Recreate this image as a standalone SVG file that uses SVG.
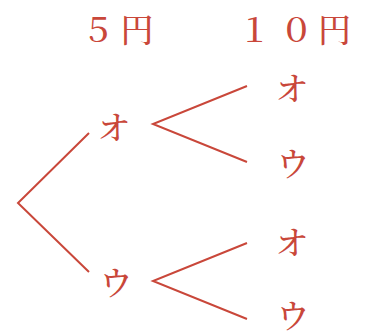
<svg xmlns="http://www.w3.org/2000/svg" width="365" height="331" viewBox="0 0 365 331">
<style>
text{font-family:"Noto Serif CJK JP","Noto Sans CJK JP",serif;font-size:33px;font-weight:500;fill:#c9473a;text-anchor:middle;dominant-baseline:central}
.edge{stroke:#c9473a;stroke-width:2;fill:none}
</style>
<rect width="365" height="331" fill="#ffffff"/>
<g id="header-5yen"><text x="98 137" y="27">５円</text></g>
<g id="header-10yen"><text x="254.5 296.5 334.5" y="27">１０円</text></g>
<g id="connectors">
<polyline class="edge" points="89,133 18,203 89,272"/>
<polyline class="edge" points="247,86 153,124 247,162"/>
<polyline class="edge" points="247,243 153,281 247,319"/>
</g>
<g id="n1-o"><text x="114" y="125">オ</text></g>
<g id="n1-u"><text x="116" y="280">ウ</text></g>
<g id="n2-oo"><text x="292" y="86">オ</text></g>
<g id="n2-ou"><text x="293" y="161">ウ</text></g>
<g id="n2-uo"><text x="292" y="240">オ</text></g>
<g id="n2-uu"><text x="293" y="313">ウ</text></g>
</svg>
